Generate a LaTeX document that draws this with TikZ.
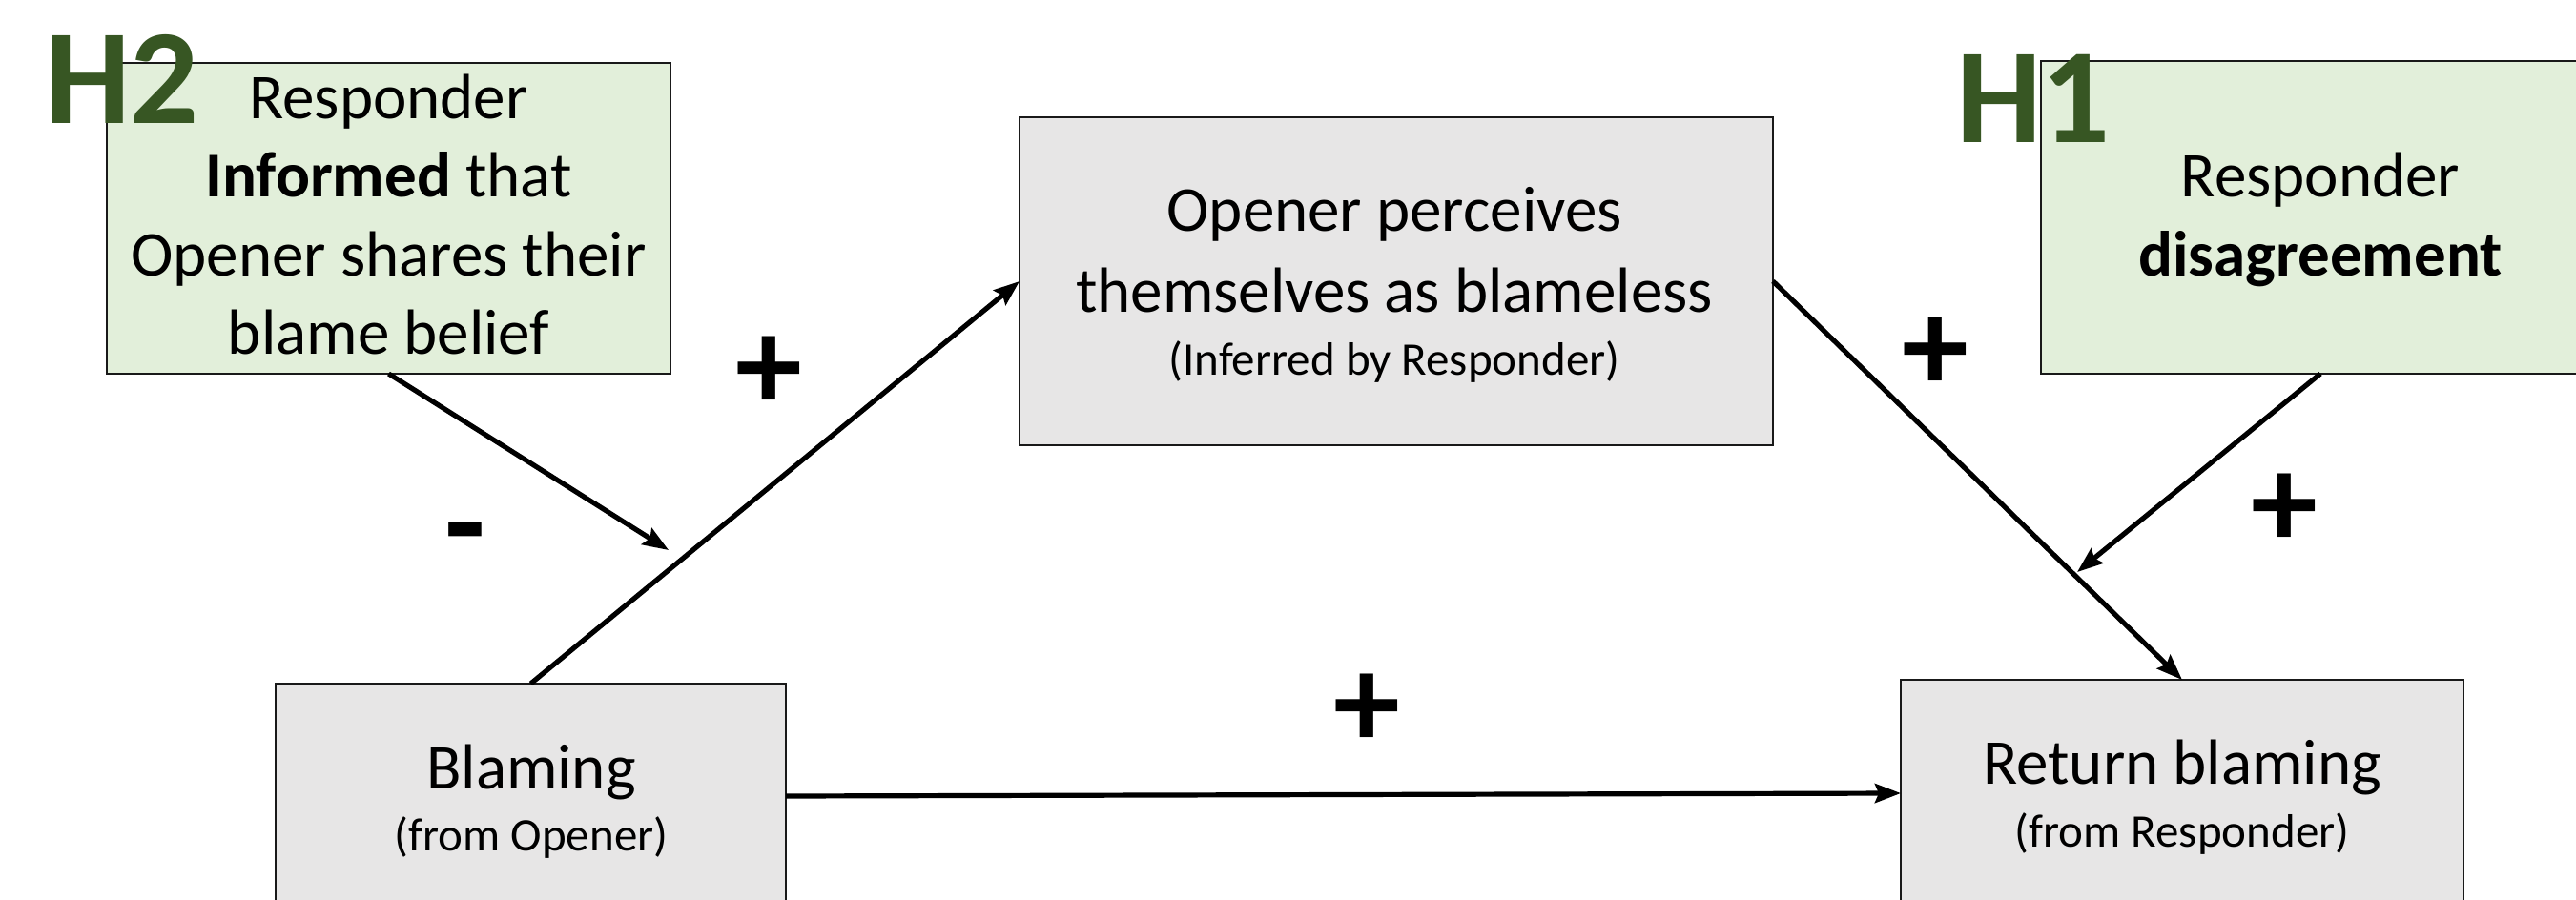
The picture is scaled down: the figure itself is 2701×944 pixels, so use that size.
\documentclass[tikz,border=0pt]{standalone}
\usepackage{fontspec}
\setmainfont{Carlito}
\usetikzlibrary{arrows.meta}
\definecolor{hgreen}{HTML}{375623}
\definecolor{boxgreen}{HTML}{E2EFDA}
\definecolor{boxgray}{HTML}{E7E6E6}
\begin{document}
\begin{tikzpicture}[x=1pt,y=-1pt,
  boxbase/.style={draw=black!90, line width=2.8pt, rectangle, inner sep=0pt, outer sep=0pt},
  boxg/.style={boxbase, fill=boxgreen},
  boxn/.style={boxbase, fill=boxgray},
  big/.style={font=\fontsize{67}{82}\selectfont, anchor=base, inner sep=0pt},
  small/.style={font=\fontsize{49}{60}\selectfont, anchor=base, inner sep=0pt},
  sign/.style={font=\fontsize{140}{140}\selectfont\bfseries, inner sep=0pt, anchor=center},
  hlabel/.style={font=\fontsize{142}{142}\selectfont\bfseries, text=hgreen, anchor=base, inner sep=0pt},
  conn/.style={line width=5.2pt, -{Stealth[length=27pt,width=20pt,inset=4pt]}}]
\useasboundingbox (0,0) rectangle (2701,944);
\fill[white] (0,0) rectangle (2701,944);
\clip (0,0) rectangle (2701,944);

% boxes
\node[boxg, minimum width=591pt, minimum height=326pt] (h2box) at (407.5,229) {};
\node[boxn, minimum width=790pt, minimum height=344pt] (cbox) at (1464,295) {};
\node[boxg, minimum width=586pt, minimum height=328pt] (h1box) at (2433,228) {};
\node[boxn, minimum width=535pt, minimum height=283pt] (blame) at (556.5,858.5) {};
\node[boxn, minimum width=590pt, minimum height=287pt] (rbox) at (2288,856.5) {};

% texts
\node[big] (h2t1) at (407.5,125) {Responder};
\node[big] (h2t2) at (407.5,207) {\textbf{Informed} that};
\node[big] (h2t3) at (407.5,289) {Opener shares their};
\node[big] (h2t4) at (407.5,371) {blame belief};

\node[big] (ct1) at (1462,242) {Opener perceives};
\node[big] (ct2) at (1462,327) {themselves as blameless};
\node[small] (ct3) at (1462,393) {(Inferred by Responder)};

\node[big] (h1t1) at (2433,207) {Responder};
\node[big] (h1t2) at (2433,289) {\textbf{disagreement}};

\node[big] (bt1) at (557,827) {Blaming};
\node[small] (bt2) at (557,892) {(from Opener)};

\node[big] (rt1) at (2288,822) {Return blaming};
\node[small] (rt2) at (2288,888) {(from Responder)};

% connectors
\coordinate (m2) at (701,577);
\coordinate (m1) at (2178,600);
\coordinate (hy1) at (0,835);
\coordinate (hy2) at (0,832);
\draw[conn] (blame.north) -- (cbox.west);
\draw[conn] (h2box.south) -- (m2);
\draw[conn] (cbox.east) -- (rbox.north);
\draw[conn] (h1box.south) -- (m1);
\draw[conn] (blame.east |- hy1) -- (rbox.west |- hy2);

% signs
\node[sign] (p1) at (806,392) {+};
\node[sign] (p2) at (2029,372) {+};
\node[sign] (p3) at (2395,536) {+};
\node[sign] (p4) at (1433,746) {+};
\node[sign] (mn) at (488,572) {-};

% hypothesis labels
\node[hlabel] (lh2) at (128,130) {H2};
\node[hlabel] (lh1) at (2132,150) {H1};
\end{tikzpicture}
\end{document}
